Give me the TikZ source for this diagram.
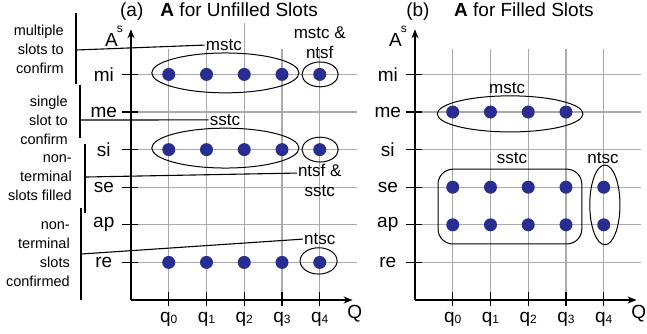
\documentclass[tikz,border=0pt]{standalone}
\usepackage{fontspec}
\setmainfont{Liberation Sans}
\usetikzlibrary{positioning,calc,arrows.meta}

\begin{document}
\begin{tikzpicture}[x=37.75pt, y=37.6pt, font=\fontsize{19}{21}\selectfont]

\definecolor{dotcolor}{RGB}{40,45,145}
\definecolor{gridcol}{RGB}{170,170,170}

\tikzset{
  gridline/.style={gridcol, line width=1.2pt},
  axisline/.style={black, line width=1.2pt},
  slot/.style={circle, fill=dotcolor, inner sep=0pt, minimum size=13pt},
  ring/.style={draw, black, line width=1pt},
  lead/.style={black, line width=1.1pt},
  note/.style={align=right, font=\fontsize{14.5}{19}\selectfont, inner sep=0pt},
  tag/.style={align=center, font=\fontsize{17}{20}\selectfont, inner sep=1pt},
}

\def\gw{6}      % grid width
\def\gh{6.68}   % grid height
\def\pb{7.523}  % shift of panel (b)

\useasboundingbox (-3.470,-0.878) rectangle (13.669,7.979);

% ---------------- helper: grid, axes, labels ----------------
\newcommand{\panelaxes}{%
  \foreach \ri in {1,...,6} \draw[gridline] (0,\ri) -- (\gw,\ri);
  \foreach \qi in {1,...,5} \draw[gridline] (\qi,0) -- (\qi,\gh);
  \draw[axisline, -{Stealth[length=9pt, width=7pt]}] (0,0) -- (0,7.2);
  \draw[axisline, -{Stealth[length=9pt, width=7pt]}] (0,0) -- (5.87,0);
  \foreach \ri/\lab in {1/re,2/ap,3/se,4/si,5/me,6/mi} {
    \draw[axisline] (-0.24,\ri) -- (0.18,\ri);
    \node at (-0.72,\ri) {\lab};
  }
  \foreach \qi in {0,...,4} {
    \draw[axisline] (\qi+1,-0.16) -- (\qi+1,0.21);
    \node[anchor=base] at (\qi+1,-0.585) {q\raisebox{-1pt}{\fontsize{12}{12}\selectfont\qi}};
  }
  \node[anchor=base west, inner sep=0pt] at (-0.69,6.73)
    {A\kern-1pt\raisebox{14pt}{\fontsize{12}{12}\selectfont s}};
  \node at (5.93,-0.35) {Q};
}

% =========== LEFT: unfilled slots ===========
\begin{scope}
  \panelaxes
  \draw[gridline] (3,\gh) -- (3,7.37);
  \foreach \ri in {1,4,6}
    \foreach \qi in {0,...,4}
      \node[slot] (a\ri\qi) at (\qi+1,\ri) {};
  % groups
  \draw[ring] (2.50,6.04) ellipse [x radius=1.95, y radius=0.53];
  \draw[ring] (5.01,6.00) ellipse [x radius=0.48, y radius=0.33];
  \draw[ring] (2.50,4.04) ellipse [x radius=1.95, y radius=0.53];
  \draw[ring] (5.01,4.00) ellipse [x radius=0.48, y radius=0.33];
  \draw[ring] (4.97,1.04) ellipse [x radius=0.49, y radius=0.35];
  \node[tag] (mstcA) at (2.46,6.78) {mstc};
  \node[tag] (mstcntsf) at (5.0,6.84) {mstc \&\\ntsf};
  \node[tag] (sstcA) at (2.49,4.79) {sstc};
  \node[tag] (ntsfsstc) at (5.0,3.19) {ntsf \&\\sstc};
  \node[tag] (ntscA) at (5.0,1.62) {ntsc};
  \node (titleA) at (2.331,7.66) {(a)\hspace{0.9em}\textbf{A} for Unfilled Slots};
  % notes on the left
  \node[note, anchor=east] (noteMulti) at (-1.775,6.676) {multiple\\slots to\\confirm};
  \node[note, anchor=east] (noteSingle) at (-1.669,4.787) {single\\slot to\\confirm};
  \node[note, anchor=east] (noteFilled) at (-1.563,3.245) {non-\\terminal\\slots filled};
  \node[note, anchor=east] (noteConf) at (-1.616,1.223) {non-\\terminal\\slots\\confirmed};
  \draw[lead] (-1.457,7.633) -- (-1.457,5.745);
  \draw[lead] (-1.351,5.718) -- (-1.351,4.309);
  \draw[lead] (-1.219,4.149) -- (-1.219,2.314);
  \draw[lead] (-1.325,2.447) -- (-1.325,0);
  \coordinate (brkMulti) at (-1.457,6.649);
  \coordinate (brkSingle) at (-1.351,4.787);
  \coordinate (brkFilled) at (-1.219,3.271);
  \coordinate (brkConf) at (-1.325,1.223);
  \draw[lead] (brkMulti) -- (mstcA.west);
  \draw[lead] (brkSingle) -- (sstcA.west);
  \draw[lead] (brkFilled) -- ([yshift=7pt]ntsfsstc.west);
  \draw[lead] (brkConf) -- (ntscA.west);
\end{scope}

% =========== RIGHT: filled slots ===========
\begin{scope}[shift={(\pb,0)}]
  \panelaxes
  \foreach \qi in {0,...,3}
    \node[slot] (b5\qi) at (\qi+1,5) {};
  \foreach \ri in {2,3}
    \foreach \qi in {0,...,4}
      \node[slot] (b\ri\qi) at (\qi+1,\ri) {};
  % groups
  \draw[ring] (2.52,4.95) ellipse [x radius=1.93, y radius=0.48];
  \draw[ring, rounded corners=15pt] (0.61,1.49) rectangle (4.42,3.48);
  \draw[ring] (5.03,2.53) ellipse [x radius=0.40, y radius=1.06];
  \node[tag] (mstcB) at (2.44,5.64) {mstc};
  \node[tag] (sstcB) at (2.57,3.78) {sstc};
  \node[tag] (ntscB) at (4.98,3.78) {ntsc};
  \node (titleB) at (2.25,7.66) {(b)\hspace{1.3em}\textbf{A} for Filled Slots};
\end{scope}

\end{tikzpicture}
\end{document}
